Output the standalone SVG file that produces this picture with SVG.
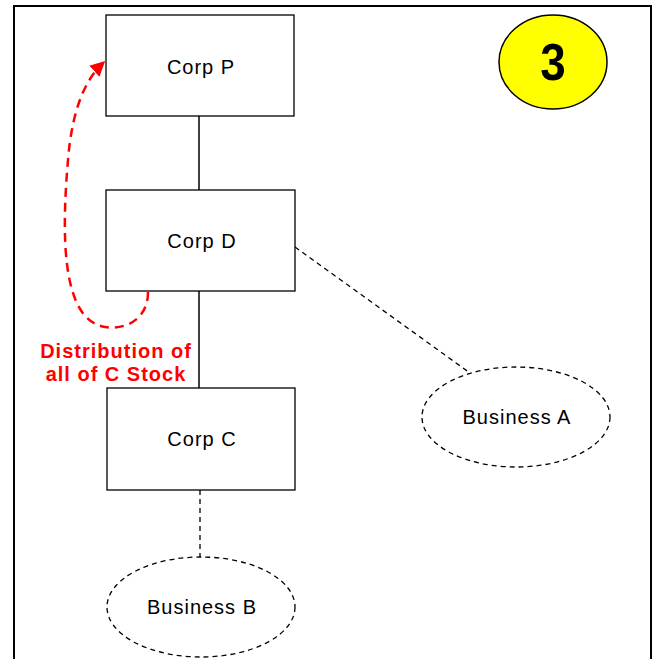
<svg xmlns="http://www.w3.org/2000/svg" width="654" height="659" viewBox="0 0 654 659">
<style>
.box{fill:#fff;stroke:#000;stroke-width:1.3}
.ell{fill:#fff;stroke:#000;stroke-width:1.3;stroke-dasharray:5 4}
.t{font-family:"Liberation Sans",Arial,sans-serif;font-size:20px;letter-spacing:1px;fill:#000;text-anchor:middle}
.red{font-family:"Liberation Sans",Arial,sans-serif;font-size:20px;letter-spacing:1px;font-weight:bold;fill:#ff0000;text-anchor:middle}
</style>
<defs>
<marker id="ah" viewBox="0 0 10 10" refX="8" refY="5" markerWidth="6" markerHeight="6" orient="auto" markerUnits="strokeWidth">
<path d="M0,0 L10,5 L0,10 z" fill="#ff0000"/>
</marker>
</defs>
<rect x="0" y="0" width="654" height="659" fill="#fff"/>
<g id="frame" fill="none" stroke="#000" stroke-width="2">
<path d="M14,659 V6 H651 V659"/>
</g>
<g id="connectors">
<line x1="199" y1="116" x2="199" y2="190" stroke="#000" stroke-width="1.5"/>
<line x1="199" y1="291" x2="199" y2="388" stroke="#000" stroke-width="1.5"/>
<line x1="200" y1="490" x2="200" y2="557" stroke="#000" stroke-width="1.3" stroke-dasharray="5 4"/>
<line x1="295" y1="247" x2="470" y2="373" stroke="#000" stroke-width="1.3" stroke-dasharray="5 4"/>
<path d="M148,292 C148,320 125,330 105,327 C60,320 62,230 68,160 C72,110 85,80 103,63" fill="none" stroke="#ff0000" stroke-width="2.5" stroke-dasharray="9 6" marker-end="url(#ah)"/>
</g>
<g id="corpP"><rect class="box" x="106" y="15" width="188" height="101"/><text class="t" x="201" y="74">Corp P</text></g>
<g id="corpD"><rect class="box" x="106" y="190" width="189" height="101"/><text class="t" x="202" y="248">Corp D</text></g>
<g id="corpC"><rect class="box" x="107" y="388" width="188" height="102"/><text class="t" x="202" y="446">Corp C</text></g>
<g id="businessA"><ellipse class="ell" cx="516" cy="417" rx="94" ry="50"/><text class="t" x="517" y="424">Business A</text></g>
<g id="businessB"><ellipse class="ell" cx="201" cy="607" rx="94" ry="50"/><text class="t" x="202" y="614">Business B</text></g>
<g id="badge"><ellipse cx="553" cy="62" rx="54" ry="47" fill="#ffff00" stroke="#000" stroke-width="1.5"/><text transform="translate(553,80) scale(0.88,1)" x="0" y="0" font-family="Liberation Sans,Arial,sans-serif" font-size="52" font-weight="bold" text-anchor="middle">3</text></g>
<g id="label"><text class="red" x="116" y="358">Distribution of</text><text class="red" x="116" y="381">all of C Stock</text></g>
</svg>
